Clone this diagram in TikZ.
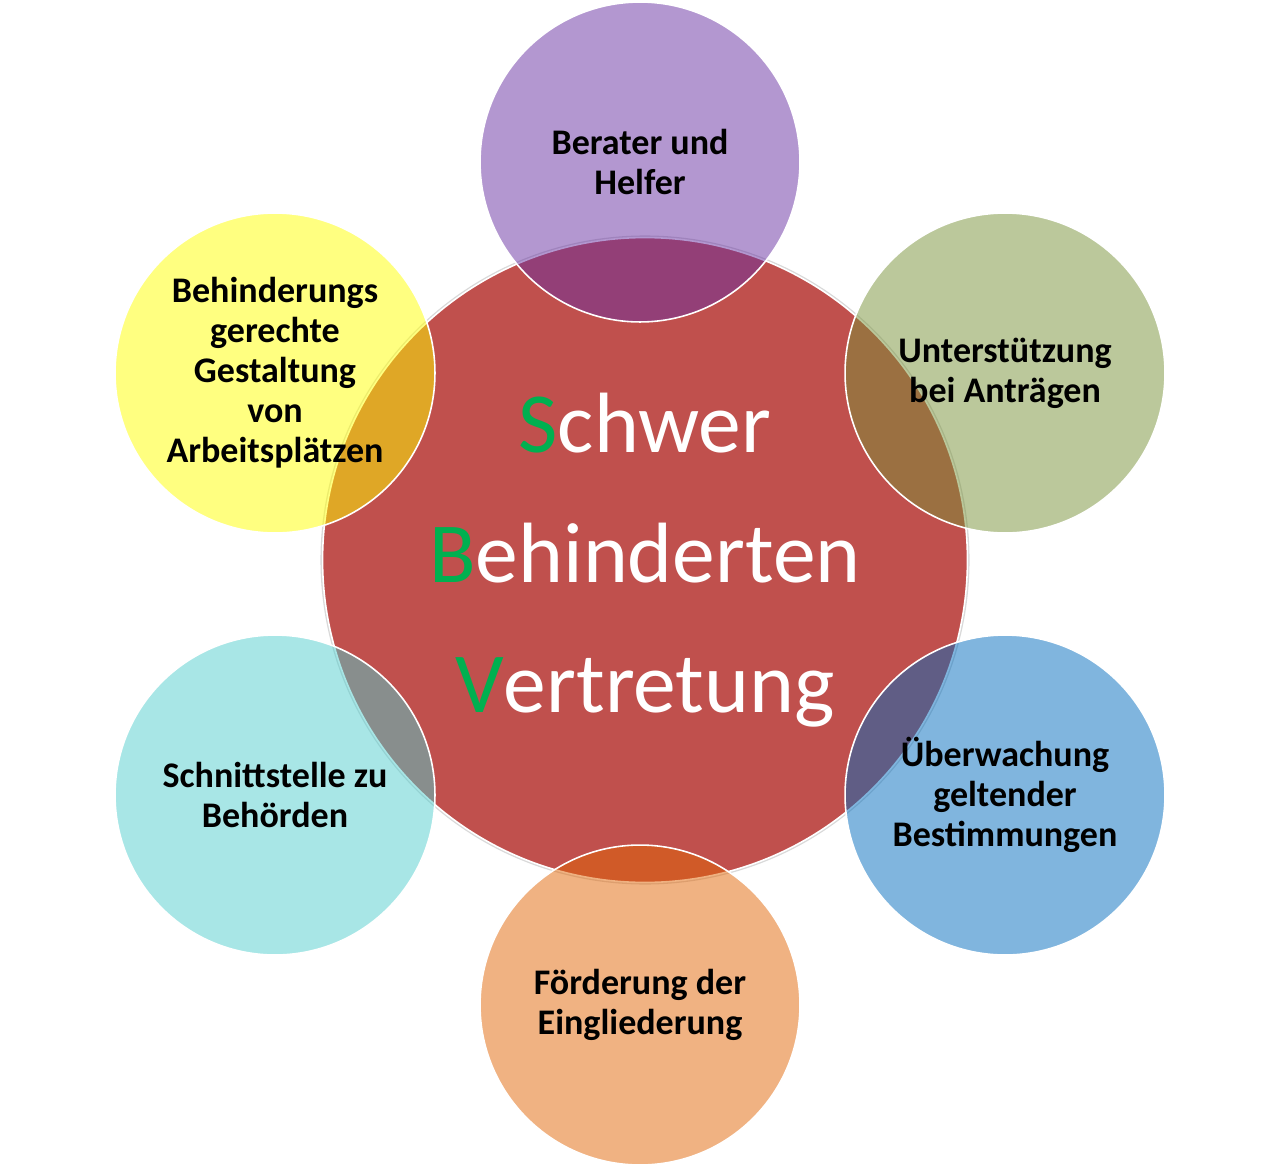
\documentclass[tikz,border=0pt]{standalone}
\usepackage{fontspec}
\setmainfont{Carlito}
\definecolor{sbvred}{RGB}{192,80,77}
\definecolor{sbvgreen}{RGB}{0,176,80}
\definecolor{purp}{RGB}{103,47,161}
\definecolor{olive}{RGB}{119,145,55}
\definecolor{sky}{RGB}{1,107,189}
\definecolor{peach}{RGB}{225,101,5}
\definecolor{aqua}{RGB}{81,205,205}
\definecolor{lemon}{RGB}{255,255,1}
\tikzset{bubble/.style = {circle, inner sep = 0, minimum size = 6.4cm,
                          draw = white, line width = 0.9pt,
                          fill opacity = 0.5, text opacity = 1, align = center,
                          font = \fontsize{20.5}{22.8}\selectfont\bfseries}}
\tikzset{core/.style = {circle, inner sep = 0, minimum size = 12.9cm,
                        fill = sbvred, draw = white, line width = 0.9pt,
                        preaction = {draw = black!15, line width = 2.4pt},
                        text = white, align = center,
                        font = \fontsize{48.7}{74}\selectfont}}
\newcommand{\initial}[1]{\textcolor{sbvgreen}{#1}}
\begin{document}
\begin{tikzpicture}[x = 0.02cm, y = -0.02cm]
    \useasboundingbox (0, 0) rectangle (1280, 1169);
    \node (sbv) at (645, 560) [core] {\initial{S}chwer\\\initial{B}ehinderten\\\initial{V}ertretung};
    \node (berater) at (640, 162) [bubble, fill = purp] {Berater und\\Helfer};
    \node (antrag) at (1005, 373) [bubble, fill = olive] {Unterstützung\\bei Anträgen};
    \node (aufsicht) at (1005, 795) [bubble, fill = sky] {Überwachung\\geltender\\Bestimmungen};
    \node (foerder) at (640, 1005) [bubble, fill = peach] {Förderung der\\Eingliederung};
    \node (behoerde) at (275, 795) [bubble, fill = aqua] {Schnittstelle zu\\Behörden};
    \node (arbeit) at (275, 373) [bubble, fill = lemon] {Behinderungs\\gerechte\\Gestaltung\\von\\Arbeitsplätzen};
  \end{tikzpicture}
\end{document}
